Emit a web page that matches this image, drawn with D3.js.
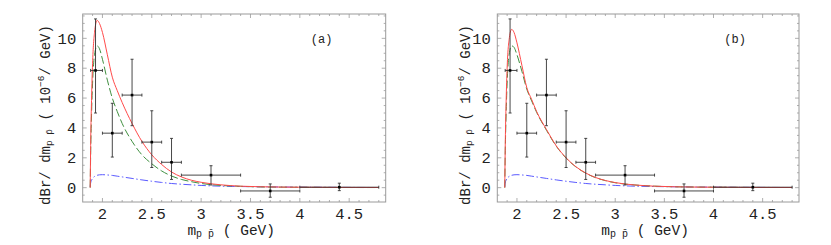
<!DOCTYPE html>
<html>
<head>
<meta charset="utf-8">
<script src="https://cdn.jsdelivr.net/npm/d3@7"></script>
<style>
  body { margin: 0; background: #fff; }
  text { font-family: "Liberation Mono", "DejaVu Sans Mono", monospace; fill: #222; }
</style>
</head>
<body>
<div id="chart"></div>
<script>
// measured bins (same in both panels)
const binCenter = [1.93, 2.1, 2.3, 2.5, 2.7, 3.1, 3.7, 4.4];
const binLo     = [1.88, 2.0, 2.2, 2.4, 2.6, 2.8, 3.4, 4.0];
const binHi     = [2.0, 2.2, 2.4, 2.6, 2.8, 3.4, 4.0, 4.8];
const measVal   = [7.85, 3.65, 6.2, 3.05, 1.7, 0.84, -0.22, 0.03];
const measLo    = [5.0, 2.05, 4.15, 1.35, 0.55, 0.18, -0.64, -0.2];
const measHi    = [11.3, 5.65, 8.6, 5.15, 3.3, 1.47, 0.25, 0.3];

// theory curves
const curveX = [1.876, 1.88, 1.89, 1.90, 1.92, 1.946, 1.97, 2.0, 2.05, 2.1, 2.15, 2.2, 2.3, 2.4,
                2.5, 2.6, 2.7, 2.8, 2.9, 3.0, 3.2, 3.4, 3.6, 3.8, 4.0, 4.4, 4.8];
const redA   = [0, 2.5, 6.0, 8.3, 10.4, 11.2, 11.0, 10.4, 8.9, 7.4, 6.5, 5.7, 4.3, 3.1,
                2.2, 1.55, 1.05, 0.72, 0.5, 0.36, 0.19, 0.1, 0.06, 0.04, 0.03, 0.015, 0.01];
const greenA = [0, 2.0, 5.0, 7.0, 8.9, 9.5, 9.3, 8.6, 7.2, 6.0, 5.1, 4.3, 3.1, 2.2,
                1.6, 1.12, 0.78, 0.55, 0.4, 0.28, 0.15, 0.09, 0.05, 0.035, 0.025, 0.012, 0.008];
const redB   = [0, 2.4, 5.8, 8.0, 9.9, 10.6, 10.4, 9.7, 8.2, 6.7, 5.9, 5.1, 3.9, 2.8,
                2.0, 1.4, 0.98, 0.68, 0.48, 0.34, 0.18, 0.1, 0.06, 0.04, 0.03, 0.015, 0.01];
const greenB = [0, 2.0, 5.0, 7.0, 8.9, 9.5, 9.4, 8.9, 7.8, 6.6, 5.8, 5.05, 3.85, 2.78,
                1.98, 1.39, 0.97, 0.67, 0.47, 0.33, 0.18, 0.1, 0.06, 0.04, 0.03, 0.015, 0.01];
const blueAB = [0.05, 0.3, 0.5, 0.62, 0.75, 0.83, 0.86, 0.87, 0.85, 0.82, 0.77, 0.72, 0.62, 0.52,
                0.43, 0.35, 0.28, 0.23, 0.19, 0.15, 0.1, 0.075, 0.06, 0.045, 0.035, 0.02, 0.01];

const xTicks = [2, 2.5, 3, 3.5, 4, 4.5];
const yTicks = [0, 2, 4, 6, 8, 10];

const W = 831, H = 245;
const svg = d3.select('#chart').append('svg')
  .attr('width', W).attr('height', H);
svg.append('rect').attr('width', W).attr('height', H).attr('fill', '#fff');

const panels = [
  { tag: '(a)', left: 82.7, right: 385.7, ylabX: 50, red: redA, green: greenA },
  { tag: '(b)', left: 497.3, right: 799, ylabX: 470, red: redB, green: greenB }
];

const frameTop = 14, frameBottom = 202;

panels.forEach(p => {
  const x = d3.scaleLinear().domain([1.80, 4.87]).range([p.left, p.right]);
  const y = d3.scaleLinear().domain([-0.96, 11.63]).range([frameBottom, frameTop]);
  const g = svg.append('g');

  // frame
  g.append('rect')
    .attr('x', p.left).attr('y', frameTop)
    .attr('width', p.right - p.left).attr('height', frameBottom - frameTop)
    .attr('fill', 'none').attr('stroke', '#9a9a9a').attr('stroke-width', 1);

  // ticks on all four sides, pointing inward
  const xMinor = d3.range(19, 49).map(v => v / 10).filter(v => !xTicks.some(t => Math.abs(t - v) < 1e-6));
  const yMinor = d3.range(-1, 24).map(v => v / 2).filter(v => v > -0.96 && v < 11.63 && v % 2 !== 0);
  const tickG = g.append('g').attr('stroke', '#9a9a9a').attr('stroke-width', 0.8);
  [[xTicks, 4], [xMinor, 2]].forEach(([vals, len]) => {
    vals.forEach(v => {
      tickG.append('line').attr('x1', x(v)).attr('x2', x(v)).attr('y1', frameBottom).attr('y2', frameBottom - len);
      tickG.append('line').attr('x1', x(v)).attr('x2', x(v)).attr('y1', frameTop).attr('y2', frameTop + len);
    });
  });
  [[yTicks, 4], [yMinor, 2]].forEach(([vals, len]) => {
    vals.forEach(v => {
      tickG.append('line').attr('y1', y(v)).attr('y2', y(v)).attr('x1', p.left).attr('x2', p.left + len);
      tickG.append('line').attr('y1', y(v)).attr('y2', y(v)).attr('x1', p.right).attr('x2', p.right - len);
    });
  });

  // tick labels
  g.selectAll('.xt').data(xTicks).join('text')
    .attr('x', d => x(d)).attr('y', 218.5)
    .attr('text-anchor', 'middle').attr('font-size', 15.5)
    .text(d => d);
  g.selectAll('.yt').data(yTicks).join('text')
    .attr('x', p.left - 6.5).attr('y', d => y(d) + 5.2)
    .attr('text-anchor', 'end').attr('font-size', 15.5)
    .text(d => d);

  // axis labels
  const xl = g.append('text')
    .attr('x', (p.left + p.right) / 2 - 3).attr('y', 235)
    .attr('text-anchor', 'middle').attr('font-size', 14.5);
  xl.append('tspan').text('m');
  xl.append('tspan').attr('font-size', 10).attr('dy', 2).text('p p\u0304');
  xl.append('tspan').attr('dy', -2).text(' ( GeV)');

  const yl = g.append('text')
    .attr('transform', `translate(${p.ylabX},${(frameTop + frameBottom) / 2 + 7}) rotate(-90)`)
    .attr('text-anchor', 'middle').attr('font-size', 14);
  yl.append('tspan').text('dBr/ dm');
  yl.append('tspan').attr('font-size', 9.5).attr('dy', 2).text('p p\u0304');
  yl.append('tspan').attr('dy', -2).text(' ( 10');
  yl.append('tspan').attr('font-size', 9.5).attr('dy', -6).text('\u22126');
  yl.append('tspan').attr('dy', 6).text('/ GeV)');

  g.append('text')
    .attr('x', x(4.22)).attr('y', 43)
    .attr('font-size', 12).attr('text-anchor', 'middle')
    .text(p.tag);

  // curves
  const clip = `clip-${p.tag[1]}`;
  svg.append('clipPath').attr('id', clip).append('rect')
    .attr('x', p.left).attr('y', frameTop).attr('width', p.right - p.left).attr('height', frameBottom - frameTop);
  const line = d3.line().x(d => x(d[0])).y(d => y(d[1])).curve(d3.curveMonotoneX);
  const cg = g.append('g').attr('clip-path', `url(#${clip})`).attr('fill', 'none');
  cg.append('path').attr('d', line(curveX.map((v, i) => [v, blueAB[i]])))
    .attr('stroke', '#5a5aff').attr('stroke-width', 1).attr('stroke-dasharray', '8,2.5,1.5,2.5');
  cg.append('path').attr('d', line(curveX.map((v, i) => [v, p.green[i]])))
    .attr('stroke', '#3f8f3f').attr('stroke-width', 1).attr('stroke-dasharray', '8,3');
  cg.append('path').attr('d', line(curveX.map((v, i) => [v, p.red[i]])))
    .attr('stroke', '#ff4a4a').attr('stroke-width', 1);

  // measured points with error bars
  const pts = g.append('g').attr('stroke', '#333').attr('stroke-width', 0.9);
  binCenter.forEach((c, i) => {
    const cx = x(c), cy = y(measVal[i]);
    pts.append('line').attr('x1', x(binLo[i])).attr('x2', x(binHi[i])).attr('y1', cy).attr('y2', cy);
    pts.append('line').attr('x1', cx).attr('x2', cx).attr('y1', y(measLo[i])).attr('y2', y(measHi[i]));
    // caps
    [binLo[i], binHi[i]].forEach(v => pts.append('line')
      .attr('x1', x(v)).attr('x2', x(v)).attr('y1', cy - 1.5).attr('y2', cy + 1.5));
    [measLo[i], measHi[i]].forEach(v => pts.append('line')
      .attr('x1', cx - 1.5).attr('x2', cx + 1.5).attr('y1', y(v)).attr('y2', y(v)));
    g.append('rect').attr('x', cx - 1.3).attr('y', cy - 1.3).attr('width', 2.6).attr('height', 2.6)
      .attr('fill', '#000');
  });
});
</script>
</body>
</html>
